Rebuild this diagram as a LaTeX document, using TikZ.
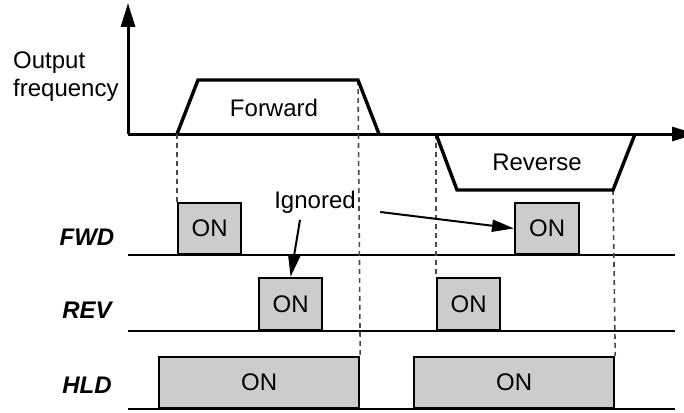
\documentclass[tikz,border=0pt]{standalone}
\usepackage{fontspec}
\setmainfont{Liberation Sans}
\usetikzlibrary{arrows.meta, positioning}
\definecolor{onfill}{HTML}{CCCCCC}
\definecolor{guide}{HTML}{4A4A4A}

\begin{document}
\begin{tikzpicture}[x=1pt, y=-1pt, >={Triangle[length=22pt, width=12pt]},
  font=\fontsize{24}{28}\selectfont,
  onbox/.style={draw, line width=2.2pt, fill=onfill, inner sep=0pt, minimum height=51pt, anchor=south west},
  sig/.style={font=\fontsize{24}{28}\selectfont\bfseries\itshape},
  guideline/.style={guide, dash pattern=on 5pt off 4pt, line width=1.6pt}]
  \useasboundingbox (0,0) rectangle (684,412);

  % Axes
  \coordinate (o) at (128,134);
  \coordinate (ytip) at (128,3);
  \coordinate (xtip) at (696,134);
  \draw[line width=3pt, -{Triangle[length=24pt, width=14pt]}] (o) -- (ytip);
  \draw[line width=3pt, -{Triangle[length=24pt, width=14pt]}] (o) -- (xtip);
  \node[align=left, anchor=west, inner sep=0pt] (ylab) at (13,77) {Output\\frequency};

  % Signal rows
  \foreach \row/\yb/\yt in {FWD/255/237, REV/331/310, HLD/409/385} {
    \draw[line width=2.8pt] (128,\yb) -- (675,\yb);
    \node[sig] (\row) at (87,\yt) {\row};
  }

  % ON pulses
  \node[onbox, minimum width=63pt] (fwdon1) at (177,255) {ON};
  \node[onbox, minimum width=64pt] (fwdon2) at (514,255) {ON};
  \node[onbox, minimum width=63pt, minimum height=52pt] (revon1) at (258,331) {ON};
  \node[onbox, minimum width=63pt, minimum height=52pt] (revon2) at (436,331) {ON};
  \node[onbox, minimum width=200pt] (hldon1) at (158,409) {ON};
  \node[onbox, minimum width=200pt] (hldon2) at (413,409) {ON};

  % Guides
  \draw[guideline] (177,134) -- (fwdon1.north west);
  \draw[guideline] (358,80) -- (hldon1.north east);
  \draw[guideline] (436,134) -- (revon2.north west);
  \draw[guideline] (613,190) -- (hldon2.north east);

  % Output frequency
  \draw[line width=3.4pt, line join=miter] (177,134) -- (198,80) -- (358,80) -- (379,134);
  \draw[line width=3.4pt, line join=miter] (436,134) -- (457,190) -- (613,190) -- (635,134);
  \node (fwdtxt) at (274,108) {Forward};
  \node (revtxt) at (537,162) {Reverse};

  % Ignored
  \node (ign) at (315,202) {Ignored};
  \draw[->, line width=2pt] ([shift={(-15pt,-3pt)}]ign.south) -- (revon1.north);
  \draw[->, line width=2pt] ([shift={(21pt,-10pt)}]ign.east) -- (fwdon2.west);
\end{tikzpicture}
\end{document}
